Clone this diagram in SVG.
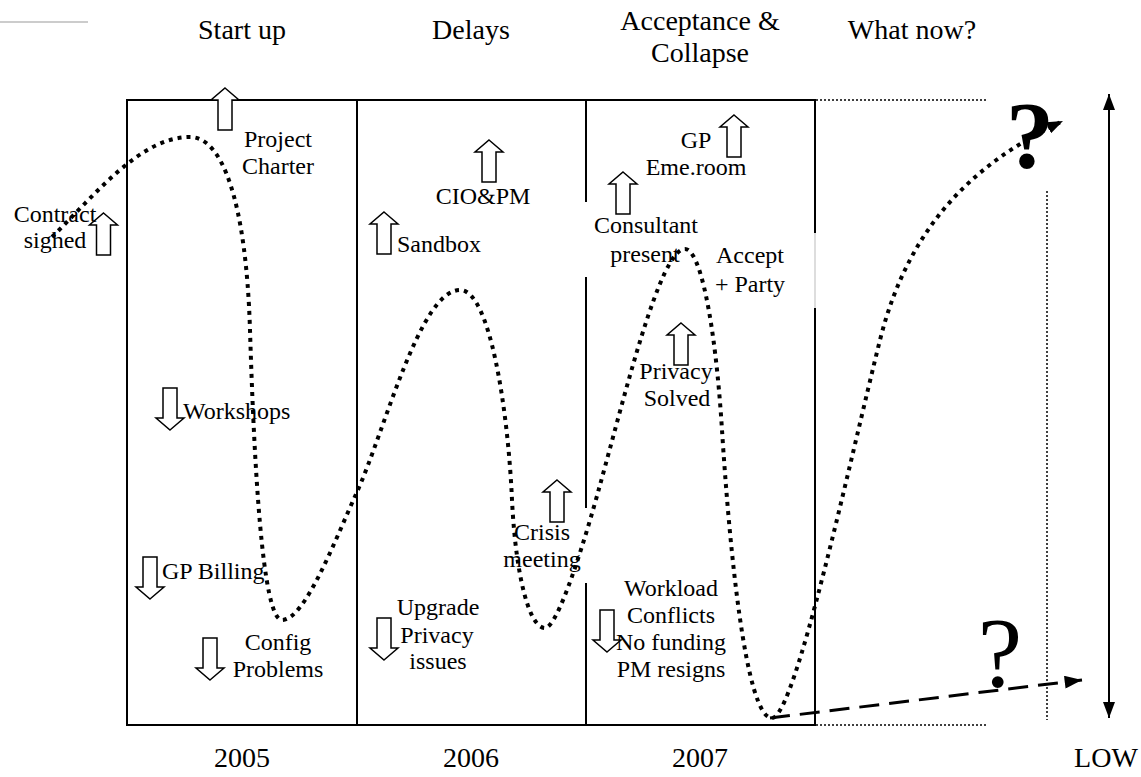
<svg xmlns="http://www.w3.org/2000/svg" xmlns:xlink="http://www.w3.org/1999/xlink" width="1141" height="777" viewBox="0 0 1141 777">
<style>
text{font-family:"Liberation Serif","Times New Roman",serif;font-size:24px;fill:#000;text-anchor:middle}
.h{font-size:28px}
.s{text-anchor:start}
.box{stroke:#000;stroke-width:2;fill:none}
.dot{stroke:#000;stroke-width:1.5;stroke-dasharray:2 2;fill:none}
.blk{fill:#fff;stroke:#000;stroke-width:1.5;stroke-linejoin:miter}
</style>
<defs>
<path id="up" class="blk" d="M0,0 L14,12 L7,12 L7,42 L-7,42 L-7,12 L-14,12 Z"/>
<path id="dn" class="blk" d="M0,42 L14,30 L7,30 L7,0 L-7,0 L-7,30 L-14,30 Z"/>
<marker id="tri" viewBox="0 0 16 12" refX="16" refY="6" markerWidth="16" markerHeight="12" markerUnits="userSpaceOnUse" orient="auto-start-reverse"><path d="M0,0 L16,6 L0,12 Z" fill="#000"/></marker>
<marker id="tri2" viewBox="0 0 16 12" refX="16" refY="6" markerWidth="18" markerHeight="13" markerUnits="userSpaceOnUse" orient="auto"><path d="M0,0 L16,6 L0,12 Z" fill="#000"/></marker>
</defs>
<g id="frame">
<line x1="0" y1="22" x2="88" y2="22" stroke="#999" stroke-width="1"/>
<line class="box" x1="126" y1="100" x2="816" y2="100"/>
<line class="box" x1="126" y1="725" x2="816" y2="725"/>
<line class="box" x1="127" y1="100" x2="127" y2="725"/>
<line class="box" x1="357" y1="100" x2="357" y2="725"/>
<line class="box" x1="586" y1="100" x2="586" y2="202"/>
<line class="box" x1="586" y1="277" x2="586" y2="508"/>
<line class="box" x1="586" y1="583" x2="586" y2="725"/>
<line class="box" x1="815" y1="100" x2="815" y2="233"/>
<line x1="815" y1="233" x2="815" y2="308" stroke="#bbb" stroke-width="1"/>
<line class="box" x1="815" y1="308" x2="815" y2="725"/>
<line class="dot" x1="816" y1="100" x2="988" y2="100"/>
<line class="dot" x1="816" y1="725" x2="988" y2="725"/>
<line class="dot" x1="1047" y1="191" x2="1047" y2="720"/>
</g>
<g id="headers">
<text class="h" x="242" y="39">Start up</text>
<text class="h" x="471" y="39">Delays</text>
<text class="h" x="700" y="30">Acceptance &amp;</text>
<text class="h" x="700" y="62">Collapse</text>
<text class="h" x="912" y="39">What now?</text>
</g>
<g id="years">
<text class="h" x="242" y="767">2005</text>
<text class="h" x="471" y="767">2006</text>
<text class="h" x="700" y="767">2007</text>
<text class="h" x="1106" y="767">LOW</text>
</g>
<g id="connectors">
<path d="M52,237 C95,195 140,137 190,137 C222,137 246,200 250,330 C254,460 262,620 282,620 C305,620 335,540 357,492 C385,430 420,290 460,290 C490,290 508,410 512,500 C516,580 530,628 545,628 C558,628 585,540 600,485 C625,395 660,249 685,249 C700,249 715,320 722,430 C729,540 745,718 772,718 C795,718 850,460 880,340 C910,220 980,160 1063,121" fill="none" stroke="#000" stroke-width="4" stroke-dasharray="4 5" marker-end="url(#tri)"/>
<line x1="770" y1="718" x2="1082" y2="680" stroke="#000" stroke-width="3" stroke-dasharray="20 10" marker-end="url(#tri2)"/>
<line x1="1109" y1="94" x2="1109" y2="718" stroke="#000" stroke-width="2" marker-start="url(#tri)" marker-end="url(#tri)"/>
</g>
<g id="n-contract"><use xlink:href="#up" x="103.5" y="213"/><text x="55" y="222">Contract</text><text x="55" y="248">sighed</text></g>
<g id="n-charter"><use xlink:href="#up" x="225" y="88"/><text x="278" y="147">Project</text><text x="278" y="174">Charter</text></g>
<g id="n-workshops"><use xlink:href="#dn" x="170" y="388"/><text class="s" x="183" y="419">Workshops</text></g>
<g id="n-billing"><use xlink:href="#dn" x="150" y="557"/><text class="s" x="162" y="579">GP Billing</text></g>
<g id="n-config"><use xlink:href="#dn" x="210" y="638"/><text x="278" y="650">Config</text><text x="278" y="677">Problems</text></g>
<g id="n-sandbox"><use xlink:href="#up" x="384" y="212"/><text class="s" x="397" y="252">Sandbox</text></g>
<g id="n-ciopm"><use xlink:href="#up" x="489" y="140"/><text x="483" y="204">CIO&amp;PM</text></g>
<g id="n-upgrade"><use xlink:href="#dn" x="384" y="618"/><text x="438" y="615">Upgrade</text><text x="437" y="643">Privacy</text><text x="438" y="669">issues</text></g>
<g id="n-crisis"><use xlink:href="#up" x="557" y="480"/><text x="542" y="540">Crisis</text><text x="542" y="567">meeting</text></g>
<g id="n-gp"><use xlink:href="#up" x="734" y="115"/><text x="696" y="148">GP</text><text x="696" y="175">Eme.room</text></g>
<g id="n-consultant"><use xlink:href="#up" x="623" y="172"/><text x="646" y="233">Consultant</text><text x="645" y="262">present</text></g>
<g id="n-accept"><text x="750" y="263">Accept</text><text x="750" y="292">+ Party</text></g>
<g id="n-privacy"><use xlink:href="#up" x="681" y="323"/><text x="676" y="379">Privacy</text><text x="677" y="406">Solved</text></g>
<g id="n-workload"><use xlink:href="#dn" x="607" y="610"/><text x="671" y="596">Workload</text><text x="671" y="623">Conflicts</text><text x="671" y="650">No funding</text><text x="671" y="677">PM resigns</text></g>
<g id="n-q1"><text x="1030" y="168" style="font-size:96px;font-weight:bold">?</text></g>
<g id="n-q2"><text x="1000" y="686" style="font-size:100px">?</text></g>
</svg>
